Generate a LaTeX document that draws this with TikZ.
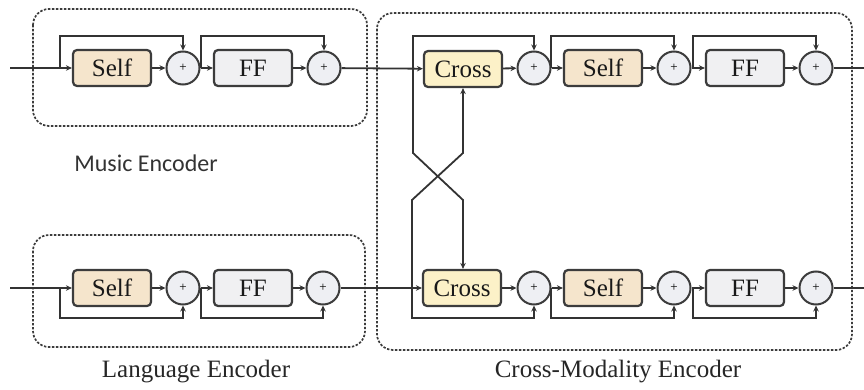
\documentclass[tikz,border=0pt]{standalone}
\usepackage{fontspec}
\setmainfont{Liberation Serif}
\newfontfamily\calib{Carlito}
\usetikzlibrary{arrows.meta,calc}
\definecolor{selfc}{HTML}{F5E5CC}
\definecolor{crossc}{HTML}{FCF1C8}
\definecolor{ffc}{HTML}{F0F0F2}
\definecolor{plusc}{HTML}{EEEFF3}
\definecolor{edgec}{HTML}{3C3C3C}
\definecolor{linec}{HTML}{333333}
\begin{document}
\begin{tikzpicture}[x=1pt,y=-1pt,
  blk/.style={draw=edgec,line width=2.2pt,rounded corners=4pt,minimum width=78pt,minimum height=36pt,inner sep=0pt,font=\fontsize{25}{28}\selectfont,text=black!90},
  selfb/.style={blk,fill=selfc},
  crossb/.style={blk,fill=crossc},
  ffb/.style={blk,fill=ffc},
  plusb/.style={circle,draw=edgec,line width=2pt,fill=plusc,minimum size=33pt,inner sep=0pt,font=\fontsize{13}{14}\selectfont},
  conn/.style={draw=linec,line width=1.8pt},
  arr/.style={conn,-{Stealth[length=6pt,width=5.5pt]}},
  grp/.style={draw=edgec,line width=1.7pt,dash pattern=on 2.4pt off 1.6pt,rounded corners=16pt},
  lbl/.style={font=\fontsize{25}{28}\selectfont,text=black!85}
]
\useasboundingbox (0,0) rectangle (864,390);
% group frames
\draw[grp] (33,9) rectangle (367,126);
\draw[grp] (33,235) rectangle (365,347);
\draw[grp] (377,13) rectangle (852,350);
% Music encoder
\node[selfb] (ms) at (112,68) {Self};
\node[plusb] (mp1) at (183,68) {+};
\node[ffb] (mf) at (253,68) {FF};
\node[plusb] (mp2) at (324,68) {+};
% Language encoder
\node[selfb] (ls) at (112,288) {Self};
\node[plusb] (lp1) at (183,288) {+};
\node[ffb] (lf) at (253,288) {FF};
\node[plusb] (lp2) at (323,288) {+};
% Cross-modality top
\node[crossb] (tc) at (463,69) {Cross};
\node[plusb] (tp1) at (534,68) {+};
\node[selfb] (ts) at (603,68) {Self};
\node[plusb] (tp2) at (674,68) {+};
\node[ffb] (tf) at (745,68) {FF};
\node[plusb] (tp3) at (816,68) {+};
% Cross-modality bottom
\node[crossb] (bc) at (462,288) {Cross};
\node[plusb] (bp1) at (534,288) {+};
\node[selfb] (bs) at (603,288) {Self};
\node[plusb] (bp2) at (674,288) {+};
\node[ffb] (bf) at (745,288) {FF};
\node[plusb] (bp3) at (816,288) {+};
% free ends
\coordinate (min) at (10,68);
\coordinate (lin) at (10,288);
\coordinate (tout) at (864,68);
\coordinate (bout) at (864,288);
% Music encoder connectors
\draw[arr] (min) -- (ms);
\draw[arr] (ms) -- (mp1);
\draw[arr] (mp1) -- (mf);
\draw[arr] (mf) -- (mp2);
\draw[arr] (60,68) |- (183,36) -- (mp1.north);
\draw[arr] (201,68) |- (324,36) -- (mp2.north);
% Language encoder connectors
\draw[arr] (lin) -- (ls);
\draw[arr] (ls) -- (lp1);
\draw[arr] (lp1) -- (lf);
\draw[arr] (lf) -- (lp2);
\draw[arr] (60,288) |- (183,318) -- (lp1.south);
\draw[arr] (201,288) |- (323,318) -- (lp2.south);
% into cross-modality
\draw[arr] (mp2) -- (tc);
\draw[arr] (lp2) -- (bc);
% top row
\draw[arr] (tc) -- (tp1);
\draw[arr] (tp1) -- (ts);
\draw[arr] (ts) -- (tp2);
\draw[arr] (tp2) -- (tf);
\draw[arr] (tf) -- (tp3);
\draw[conn] (tp3) -- (tout);
\draw[arr] (413,68) |- (534,36) -- (tp1.north);
\draw[arr] (551,68) |- (674,36) -- (tp2.north);
\draw[arr] (693,68) |- (816,36) -- (tp3.north);
% bottom row
\draw[arr] (bc) -- (bp1);
\draw[arr] (bp1) -- (bs);
\draw[arr] (bs) -- (bp2);
\draw[arr] (bp2) -- (bf);
\draw[arr] (bf) -- (bp3);
\draw[conn] (bp3) -- (bout);
\draw[arr] (412,288) |- (534,318) -- (bp1.south);
\draw[arr] (551,288) |- (674,318) -- (bp2.south);
\draw[arr] (693,288) |- (816,318) -- (bp3.south);
% crossing
\draw[arr] (413,68) -- (413,153) -- (463,200) -- (bc.north -| 463,0);
\draw[arr] (412,288) -- (412,200) -- (463,153) -- (tc.south -| 463,0);
% labels
\node[lbl,font=\calib\fontsize{24}{28}\selectfont,text=black!80] (mlab) at (146,163) {Music Encoder};
\node[lbl] (llab) at (196,372) {Language Encoder};
\node[lbl] (clab) at (618,372) {Cross-Modality Encoder};
\end{tikzpicture}
\end{document}
